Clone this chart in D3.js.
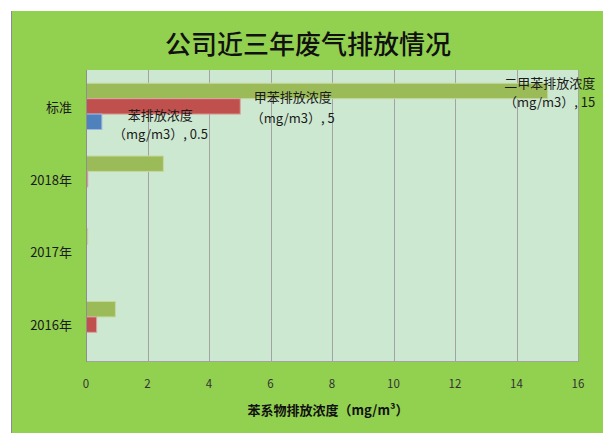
<!DOCTYPE html>
<html><head><meta charset="utf-8">
<script src="https://cdn.jsdelivr.net/npm/d3@7"></script>
<style>body{margin:0;background:#fff}svg{display:block}text{font-family:"Noto Sans CJK SC","Noto Sans",sans-serif}</style>
</head><body><svg id="c" width="603" height="433"></svg>
<script>
const categories = ["标准", "2018年", "2017年", "2016年"];
const seriesNames = ["二甲苯排放浓度", "甲苯排放浓度", "苯排放浓度"];
const xylene = [15, 2.5, 0.04, 0.94];
const toluene = [5, 0.04, 0, 0.33];
const benzene = [0.5, 0, 0, 0];
const xTicks = [0, 2, 4, 6, 8, 10, 12, 14, 16];
const title = "公司近三年废气排放情况";
const xTitle = "苯系物排放浓度（mg/m³）";
const colors = ["#9BBB59", "#C0504D", "#4F81BD"];
const strokes = ["#c5d89e", "#dba3a1", "#9db7db"];
const values = [xylene, toluene, benzene];

const svg = d3.select("#c");
const m = {l: 86, t: 70, r: 578, b: 361};

svg.append("rect").attr("x", 11).attr("y", 11).attr("width", 600).attr("height", 430).attr("fill", "#92D050");
svg.append("line").attr("x1", 11.5).attr("x2", 11.5).attr("y1", 11).attr("y2", 433).attr("stroke", "#8c8c8c");

const x = d3.scaleLinear().domain([0, 16]).range([m.l, m.r]);
const y0 = d3.scaleBand().domain(categories).range([m.t, m.b]).padding(0);
const y1 = d3.scaleBand().domain(seriesNames).range([0, y0.bandwidth()]).paddingInner(0).paddingOuter(0.86);

svg.append("rect").attr("x", m.l).attr("y", m.t).attr("width", m.r - m.l).attr("height", m.b - m.t).attr("fill", "#CDE8D0");

// gridlines
svg.append("g").selectAll("line").data(xTicks).join("line")
  .attr("x1", d => Math.round(x(d)) + 0.5).attr("x2", d => Math.round(x(d)) + 0.5)
  .attr("y1", m.t).attr("y2", m.b).attr("stroke", "#a3a3a3").attr("stroke-width", 1);
svg.append("line").attr("x1", m.l).attr("x2", x(16) + 1).attr("y1", m.b + 0.5).attr("y2", m.b + 0.5).attr("stroke", "#a3a3a3");

// bars
seriesNames.forEach((s, si) => {
  svg.append("g").selectAll("rect").data(categories.map((c, i) => ({c, v: values[si][i]}))).join("rect")
    .filter(d => d.v > 0)
    .attr("x", x(0) + 0.5)
    .attr("y", d => y0(d.c) + y1(s))
    .attr("width", d => Math.max(1, x(d.v) - x(0)))
    .attr("height", y1.bandwidth())
    .attr("fill", colors[si])
    .attr("stroke", strokes[si]).attr("stroke-width", 1);
});

// left axis line
svg.append("line").attr("x1", m.l + 0.5).attr("x2", m.l + 0.5).attr("y1", m.t).attr("y2", m.b + 1).attr("stroke", "#8f8f8f");

// y labels
svg.append("g").selectAll("text").data(categories).join("text")
  .attr("x", 72).attr("y", d => y0(d) + y0.bandwidth() / 2)
  .attr("text-anchor", "end").attr("dominant-baseline", "central")
  .attr("font-size", 13).attr("fill", "#1a1a1a").text(d => d);

// x tick labels
svg.append("g").selectAll("text").data(xTicks).join("text")
  .attr("x", d => x(d)).attr("y", 383)
  .attr("text-anchor", "middle").attr("dominant-baseline", "central")
  .attr("font-size", 11.5).attr("fill", "#333").text(d => d);

// title
svg.append("text").attr("x", 308).attr("y", 42).attr("text-anchor", "middle").attr("dominant-baseline", "central")
  .attr("font-size", 26).attr("font-weight", 500).attr("fill", "#111").text(title);
svg.append("text").attr("x", 328).attr("y", 409).attr("text-anchor", "middle").attr("dominant-baseline", "central")
  .attr("font-size", 13).attr("font-weight", "bold").attr("fill", "#111").text(xTitle);

// data labels for 标准
const lab = [
  {si: 0, dx: 48, anchor: "end", dy1: -24, dy2: -5},
  {si: 1, dx: 53, anchor: "middle", dy1: -10, dy2: 11},
  {si: 2, dx: 59, anchor: "middle", dy1: 8, dy2: 27}
];
const c0 = categories[0];
const cy = y0(c0) + y0.bandwidth() / 2;
lab.forEach(l => {
  const v = values[l.si][0];
  const lx = x(v) + l.dx;
  svg.append("text").attr("text-anchor", l.anchor).attr("font-size", 13).attr("fill", "#1a1a1a")
    .attr("x", lx).attr("y", cy + l.dy1).attr("dominant-baseline", "central").text(seriesNames[l.si]);
  svg.append("text").attr("text-anchor", l.anchor).attr("font-size", 13).attr("fill", "#1a1a1a")
    .attr("x", lx).attr("y", cy + l.dy2).attr("dominant-baseline", "central").text("（mg/m3）, " + v);
});
</script></body></html>
